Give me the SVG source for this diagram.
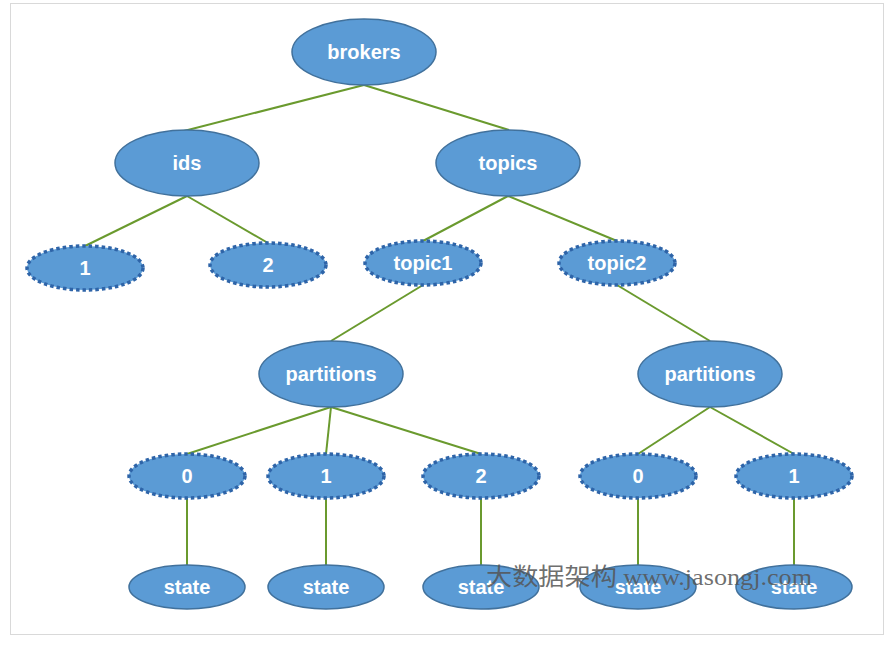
<svg xmlns="http://www.w3.org/2000/svg" width="893" height="647" viewBox="0 0 893 647">
<style>
.n ellipse{fill:#5B9BD5;stroke:#41719C;stroke-width:1.5}
.d ellipse{fill:#5B9BD5;stroke:#2E64A8;stroke-width:3.5;stroke-dasharray:3.5 3}
text.l{font-family:"Liberation Sans",Arial,sans-serif;font-weight:bold;font-size:20px;fill:#fff;text-anchor:middle;dominant-baseline:central}
#edges line{stroke:#6A9A2E;stroke-width:2}
</style>
<rect x="0" y="0" width="893" height="647" fill="#fff"/>
<rect x="10.5" y="3.5" width="873" height="631" fill="none" stroke="#D9D9D9" stroke-width="1"/>
<g id="edges">
<line x1="364" y1="85" x2="180" y2="132"/>
<line x1="364" y1="85" x2="509" y2="130"/>
<line x1="187" y1="196" x2="85" y2="246"/>
<line x1="187" y1="196" x2="268" y2="243"/>
<line x1="508" y1="196" x2="423" y2="241"/>
<line x1="508" y1="196" x2="617" y2="241"/>
<line x1="423" y1="285" x2="331" y2="341"/>
<line x1="617" y1="285" x2="710" y2="341"/>
<line x1="331" y1="407" x2="187" y2="454"/>
<line x1="331" y1="407" x2="326" y2="454"/>
<line x1="331" y1="407" x2="481" y2="454"/>
<line x1="710" y1="407" x2="638" y2="454"/>
<line x1="710" y1="407" x2="794" y2="454"/>
<line x1="187" y1="498" x2="187" y2="565"/>
<line x1="326" y1="498" x2="326" y2="565"/>
<line x1="481" y1="498" x2="481" y2="565"/>
<line x1="638" y1="498" x2="638" y2="565"/>
<line x1="794" y1="498" x2="794" y2="565"/>
</g>
<g id="brokers" class="n"><ellipse cx="364" cy="52" rx="72" ry="33"/><text class="l" x="364" y="52">brokers</text></g>
<g id="ids" class="n"><ellipse cx="187" cy="163" rx="72" ry="33"/><text class="l" x="187" y="163">ids</text></g>
<g id="topics" class="n"><ellipse cx="508" cy="163" rx="72" ry="33"/><text class="l" x="508" y="163">topics</text></g>
<g id="id1" class="d"><ellipse cx="85" cy="268" rx="58" ry="22"/><text class="l" x="85" y="268">1</text></g>
<g id="id2" class="d"><ellipse cx="268" cy="265" rx="58" ry="22"/><text class="l" x="268" y="265">2</text></g>
<g id="topic1" class="d"><ellipse cx="423" cy="263" rx="58" ry="22"/><text class="l" x="423" y="263">topic1</text></g>
<g id="topic2" class="d"><ellipse cx="617" cy="263" rx="58" ry="22"/><text class="l" x="617" y="263">topic2</text></g>
<g id="partitions1" class="n"><ellipse cx="331" cy="374" rx="72" ry="33"/><text class="l" x="331" y="374">partitions</text></g>
<g id="partitions2" class="n"><ellipse cx="710" cy="374" rx="72" ry="33"/><text class="l" x="710" y="374">partitions</text></g>
<g id="p1_0" class="d"><ellipse cx="187" cy="476" rx="58" ry="22"/><text class="l" x="187" y="476">0</text></g>
<g id="p1_1" class="d"><ellipse cx="326" cy="476" rx="58" ry="22"/><text class="l" x="326" y="476">1</text></g>
<g id="p1_2" class="d"><ellipse cx="481" cy="476" rx="58" ry="22"/><text class="l" x="481" y="476">2</text></g>
<g id="p2_0" class="d"><ellipse cx="638" cy="476" rx="58" ry="22"/><text class="l" x="638" y="476">0</text></g>
<g id="p2_1" class="d"><ellipse cx="794" cy="476" rx="58" ry="22"/><text class="l" x="794" y="476">1</text></g>
<g id="s1" class="n"><ellipse cx="187" cy="587" rx="58" ry="22"/><text class="l" x="187" y="587">state</text></g>
<g id="s2" class="n"><ellipse cx="326" cy="587" rx="58" ry="22"/><text class="l" x="326" y="587">state</text></g>
<g id="s3" class="n"><ellipse cx="481" cy="587" rx="58" ry="22"/><text class="l" x="481" y="587">state</text></g>
<g id="s4" class="n"><ellipse cx="638" cy="587" rx="58" ry="22"/><text class="l" x="638" y="587">state</text></g>
<g id="s5" class="n"><ellipse cx="794" cy="587" rx="58" ry="22"/><text class="l" x="794" y="587">state</text></g>
<text x="486" y="585" font-family="'Liberation Serif','Noto Sans CJK SC',serif" font-size="24" textLength="326" lengthAdjust="spacingAndGlyphs" fill="#555" fill-opacity="0.85">大数据架构 www.jasongj.com</text>
</svg>
